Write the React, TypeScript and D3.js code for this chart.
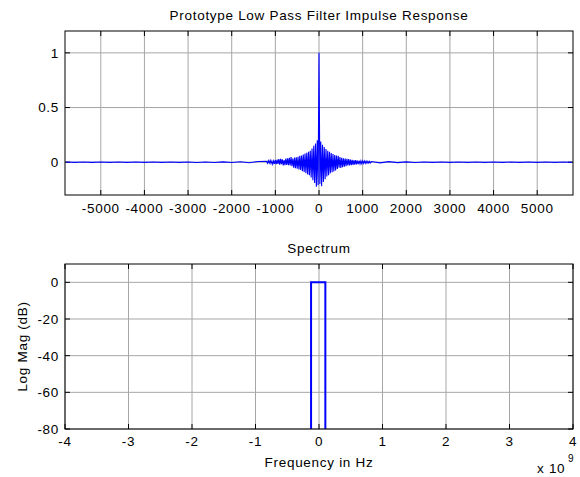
import React from "react";
import * as d3 from "d3";

// ---- Data ----
const impulseTitle = "Prototype Low Pass Filter Impulse Response";
const spectrumTitle = "Spectrum";

const impXTicks = [-5000, -4000, -3000, -2000, -1000, 0, 1000, 2000, 3000, 4000, 5000];
const impYTicks = [0, 0.5, 1];

// outer (nearly flat) tails, sampled every 200
const tailLeftX = [-5800, -5600, -5400, -5200, -5000, -4800, -4600, -4400, -4200, -4000, -3800, -3600, -3400, -3200, -3000, -2800, -2600, -2400, -2200, -2000, -1800, -1600, -1400];
const tailLeftY = [0.0015, -0.0015, 0.002, -0.0015, 0.0015, -0.002, 0.0015, -0.0015, 0.002, -0.002, 0.0015, -0.002, 0.002, -0.0015, 0.002, -0.0025, 0.002, -0.0025, 0.003, -0.003, 0.004, -0.005, 0.006];
const tailRightX = [1400, 1600, 1800, 2000, 2200, 2400, 2600, 2800, 3000, 3200, 3400, 3600, 3800, 4000, 4200, 4400, 4600, 4800, 5000, 5200, 5400, 5600, 5800];
const tailRightY = [-0.006, 0.005, -0.004, 0.003, -0.003, 0.0025, -0.002, 0.002, -0.002, 0.0015, -0.002, 0.0015, -0.0015, 0.002, -0.0015, 0.0015, -0.002, 0.0015, -0.0015, 0.0015, -0.002, 0.0015, -0.0015];

// central samples from -1200 to 1200, every 20
const coreStart = -1200;
const coreStep = 20;
const coreY = [
  0.008, -0.01, 0.014, -0.008, 0.016, -0.012, 0.01, -0.018, 0.012, -0.016, 0.02,
  -0.018, 0.024, -0.016, 0.028, -0.022, 0.03, -0.018, 0.026, -0.03, 0.02, -0.028, 0.034, -0.026, 0.036, -0.028,
  0.04, -0.03, 0.046, -0.036, 0.034, -0.05, 0.042, -0.056, 0.046, -0.06, 0.05, -0.066, 0.058, -0.072, 0.06,
  -0.082, 0.07, -0.09, 0.08, -0.1, 0.086, -0.112, 0.096, -0.12, 0.104,
  -0.14, 0.125, -0.165, 0.15, -0.19, 0.17, -0.225, 0.2, -0.21,
  1,
  -0.2, 0.19, -0.22, 0.16, -0.18, 0.14, -0.155, 0.12, -0.13,
  0.105, -0.12, 0.095, -0.1, 0.085, -0.092, 0.075, -0.085, 0.066, -0.075,
  0.06, -0.062, 0.058, -0.05, 0.048, -0.052, 0.04, -0.046, 0.036, -0.042, 0.034, -0.036, 0.032, -0.03, 0.028,
  -0.03, 0.024, -0.026, 0.022, -0.024, 0.018, -0.022, 0.018, -0.02, 0.014, -0.018, 0.014, -0.016, 0.012, -0.013,
  0.012, -0.011, 0.01, -0.01, 0.009, -0.009, 0.008, -0.008, 0.007, -0.007, 0.006,
];

const specXTicks = [-4, -3, -2, -1, 0, 1, 2, 3, 4];
const specYTicks = [-80, -60, -40, -20, 0];
const specFreq = [-4e9, -0.125e9, -0.125e9, 0.1e9, 0.1e9, 4e9];
const specMag = [-300, -300, 0, 0, -300, -300];

// ---- Layout ----
const W = 580, H = 477;
const L = 65, R = 573;
const top1 = 31, bot1 = 195;
const top2 = 264, bot2 = 429;
const FONT = "'Liberation Sans', Arial, Helvetica, sans-serif";
const FS = 13.5;
const LS = 0.7;
const GRID = "#a6a6a6";
const TICK = 5;

export default function App() {
  const x1 = d3.scaleLinear().domain([-5820, 5820]).range([L, R]);
  const y1 = d3.scaleLinear().domain([-0.3, 1.2]).range([bot1, top1]);
  const x2 = d3.scaleLinear().domain([-4e9, 4e9]).range([L, R]);
  const y2 = d3.scaleLinear().domain([-80, 10]).range([bot2, top2]);

  const impPts: [number, number][] = [];
  tailLeftX.forEach((x, i) => impPts.push([x, tailLeftY[i]]));
  coreY.forEach((v, i) => impPts.push([coreStart + i * coreStep, v]));
  tailRightX.forEach((x, i) => impPts.push([x, tailRightY[i]]));
  const impLine = d3.line<[number, number]>().x((d) => x1(d[0])).y((d) => y1(d[1]))(impPts) || "";

  const specPts: [number, number][] = specFreq.map((f, i) => [f, specMag[i]]);
  const specLine = d3.line<[number, number]>().x((d) => x2(d[0])).y((d) => y2(d[1]))(specPts) || "";

  const textProps = { fontFamily: FONT, fontSize: FS, letterSpacing: LS, fill: "#000" };

  return (
    <svg width={W} height={H} style={{ position: "absolute", left: 0, top: 0, background: "#fff" }}>
      <defs>
        <clipPath id="c1"><rect x={L} y={top1} width={R - L} height={bot1 - top1} /></clipPath>
        <clipPath id="c2"><rect x={L} y={top2} width={R - L} height={bot2 - top2} /></clipPath>
      </defs>
      <rect width={W} height={H} fill="#fff" />

      {/* ---------- Top plot ---------- */}
      <g>
        {impXTicks.map((t) => (
          <line key={"gx1" + t} x1={x1(t)} x2={x1(t)} y1={top1} y2={bot1} stroke={GRID} strokeWidth={1} />
        ))}
        {impYTicks.map((t) => (
          <line key={"gy1" + t} x1={L} x2={R} y1={y1(t)} y2={y1(t)} stroke={GRID} strokeWidth={1} />
        ))}
        {impXTicks.map((t) => (
          <g key={"tx1" + t}>
            <line x1={x1(t)} x2={x1(t)} y1={bot1} y2={bot1 - TICK} stroke="#000" />
            <line x1={x1(t)} x2={x1(t)} y1={top1} y2={top1 + TICK} stroke="#000" />
            <text x={x1(t)} y={213} textAnchor="middle" {...textProps}>{t}</text>
          </g>
        ))}
        {impYTicks.map((t) => (
          <g key={"ty1" + t}>
            <line x1={L} x2={L + TICK} y1={y1(t)} y2={y1(t)} stroke="#000" />
            <line x1={R} x2={R - TICK} y1={y1(t)} y2={y1(t)} stroke="#000" />
            <text x={59} y={y1(t)} dy="0.36em" textAnchor="end" {...textProps}>{t}</text>
          </g>
        ))}
        <path d={impLine} fill="none" stroke="#0000ff" strokeWidth={1.1} clipPath="url(#c1)" />
        <rect x={L} y={top1} width={R - L} height={bot1 - top1} fill="none" stroke="#000" strokeWidth={1} />
        <text x={(L + R) / 2} y={20} textAnchor="middle" {...textProps}>{impulseTitle}</text>
      </g>

      {/* ---------- Bottom plot ---------- */}
      <g>
        {specXTicks.map((t) => (
          <line key={"gx2" + t} x1={x2(t * 1e9)} x2={x2(t * 1e9)} y1={top2} y2={bot2} stroke={GRID} strokeWidth={1} />
        ))}
        {specYTicks.map((t) => (
          <line key={"gy2" + t} x1={L} x2={R} y1={y2(t)} y2={y2(t)} stroke={GRID} strokeWidth={1} />
        ))}
        {specXTicks.map((t) => (
          <g key={"tx2" + t}>
            <line x1={x2(t * 1e9)} x2={x2(t * 1e9)} y1={bot2} y2={bot2 - TICK} stroke="#000" />
            <line x1={x2(t * 1e9)} x2={x2(t * 1e9)} y1={top2} y2={top2 + TICK} stroke="#000" />
            <text x={x2(t * 1e9)} y={446} textAnchor="middle" {...textProps}>{t}</text>
          </g>
        ))}
        {specYTicks.map((t) => (
          <g key={"ty2" + t}>
            <line x1={L} x2={L + TICK} y1={y2(t)} y2={y2(t)} stroke="#000" />
            <line x1={R} x2={R - TICK} y1={y2(t)} y2={y2(t)} stroke="#000" />
            <text x={59} y={y2(t)} dy="0.36em" textAnchor="end" {...textProps}>{t}</text>
          </g>
        ))}
        <path d={specLine} fill="none" stroke="#0000ff" strokeWidth={2} clipPath="url(#c2)" />
        <rect x={L} y={top2} width={R - L} height={bot2 - top2} fill="none" stroke="#000" strokeWidth={1} />
        <text x={(L + R) / 2} y={253} textAnchor="middle" {...textProps}>{spectrumTitle}</text>
        <text x={(L + R) / 2} y={467} textAnchor="middle" {...textProps}>Frequency in Hz</text>
        <text transform={`translate(27, ${(top2 + bot2) / 2}) rotate(-90)`} textAnchor="middle" {...textProps}>Log Mag (dB)</text>
        <text x={537} y={473} {...textProps}>x 10</text>
        <text x={568} y={462} {...textProps} fontSize={10} letterSpacing={0}>9</text>
      </g>
    </svg>
  );
}
